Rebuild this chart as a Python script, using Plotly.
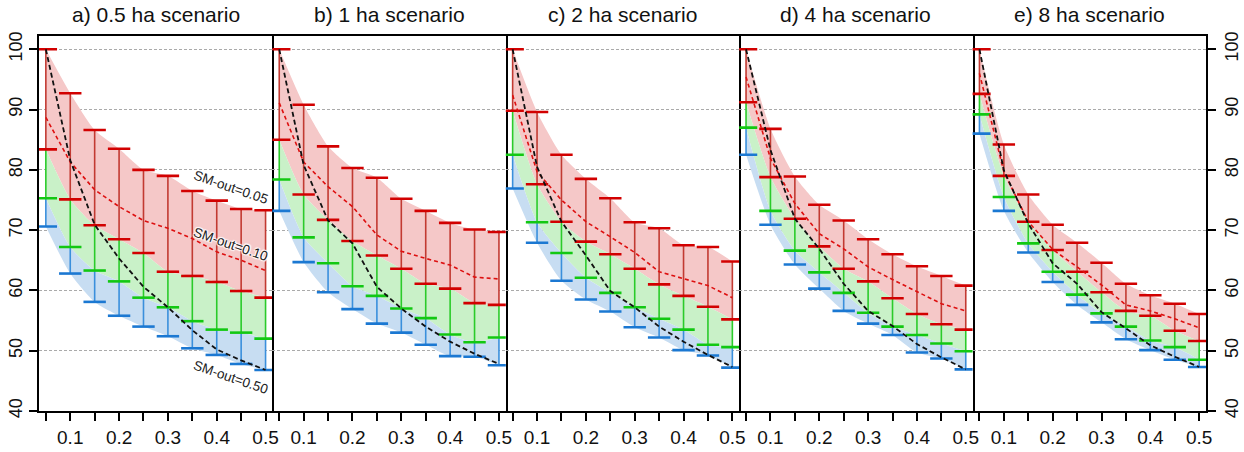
import plotly.graph_objects as go
from plotly.subplots import make_subplots

x_vals = [0.05, 0.10, 0.15, 0.20, 0.25, 0.30, 0.35, 0.40, 0.45, 0.50]
x_tickvals = [0.05, 0.10, 0.15, 0.20, 0.25, 0.30, 0.35, 0.40, 0.45, 0.50]
x_ticktext = ["", "0.1", "", "0.2", "", "0.3", "", "0.4", "", "0.5"]
y_tickvals = [40, 50, 60, 70, 80, 90, 100]
panel_titles = ["a) 0.5 ha scenario", "b) 1 ha scenario", "c) 2 ha scenario",
                "d) 4 ha scenario", "e) 8 ha scenario"]

# panel a
a_red_top = [100, 92.7, 86.6, 83.5, 80.0, 79.0, 76.5, 74.9, 73.5, 73.3]
a_red_low = [83.4, 75.1, 70.8, 68.5, 66.2, 63.1, 62.4, 61.4, 59.9, 58.8]
a_green_low = [75.3, 67.2, 63.3, 61.5, 58.8, 57.2, 54.9, 53.5, 53.0, 52.0]
a_blue_low = [70.6, 62.8, 58.1, 55.8, 54.0, 52.4, 50.4, 49.3, 47.8, 46.8]
a_sm010 = [88.7, 81.3, 76.7, 73.9, 71.6, 70.3, 68.6, 66.4, 65.0, 63.3]
a_sm050 = [100, 81.6, 70.9, 65.3, 60.6, 57.2, 53.4, 50.2, 48.4, 46.8]
# panel b
b_red_top = [100, 90.8, 83.9, 80.3, 78.7, 75.2, 73.2, 71.2, 70.1, 69.7]
b_red_low = [85.0, 75.9, 71.7, 68.2, 65.8, 63.6, 61.1, 60.3, 57.9, 57.6]
b_green_low = [78.4, 68.8, 64.5, 60.7, 59.1, 57.0, 55.4, 52.7, 51.4, 52.2]
b_blue_low = [73.2, 64.7, 59.7, 56.9, 54.5, 53.0, 51.0, 49.1, 49.0, 47.6]
b_sm010 = [91.1, 81.3, 77.2, 73.9, 69.2, 66.5, 65.3, 64.2, 62.2, 61.9]
b_sm050 = [100, 80.8, 71.6, 67.8, 60.6, 57.0, 54.0, 51.5, 49.5, 47.8]
# panel c
c_red_top = [100, 89.6, 82.5, 78.5, 75.3, 71.3, 70.3, 67.5, 67.2, 64.8]
c_red_low = [89.8, 77.6, 71.4, 68.1, 66.0, 63.6, 61.0, 59.1, 57.3, 55.2]
c_green_low = [82.5, 71.3, 66.2, 62.1, 59.6, 57.2, 55.3, 53.5, 51.0, 50.6]
c_blue_low = [76.9, 67.9, 61.6, 58.5, 56.5, 53.9, 52.2, 50.1, 49.2, 47.2]
c_sm010 = [92.4, 79.7, 75.0, 71.4, 68.9, 66.3, 63.1, 62.0, 60.8, 58.8]
c_sm050 = [100, 80.5, 71.4, 65.8, 59.9, 57.2, 54.0, 51.5, 49.3, 47.3]
# panel d
d_red_top = [100, 86.8, 78.9, 74.2, 71.6, 68.5, 66.0, 64.0, 62.4, 60.8]
d_red_low = [91.2, 78.8, 71.9, 67.3, 63.6, 61.5, 58.7, 56.1, 54.4, 53.5]
d_green_low = [87.0, 73.2, 66.6, 63.0, 59.6, 56.3, 54.0, 52.6, 51.2, 49.9]
d_blue_low = [82.5, 70.9, 64.3, 60.3, 56.6, 54.5, 52.6, 49.7, 48.7, 46.9]
d_sm010 = [95.4, 81.9, 74.4, 69.4, 66.9, 63.9, 61.8, 59.8, 57.8, 56.6]
d_sm050 = [100, 83.3, 71.9, 66.9, 61.1, 56.6, 54.1, 51.1, 48.9, 46.9]
# panel e
e_red_top = [100, 84.2, 75.9, 70.9, 67.9, 64.6, 61.1, 59.2, 57.8, 56.1]
e_red_low = [92.6, 79.0, 71.4, 66.7, 63.1, 59.7, 56.6, 55.8, 53.3, 51.6]
e_green_low = [89.2, 75.5, 67.8, 63.1, 59.3, 56.2, 54.0, 51.7, 50.6, 48.5]
e_blue_low = [86.0, 73.2, 66.3, 61.4, 57.6, 54.7, 51.9, 50.1, 48.5, 47.3]
e_sm010 = [96.0, 79.7, 71.4, 66.8, 63.9, 60.9, 57.6, 56.6, 55.3, 53.8]
e_sm050 = [100, 79.9, 71.1, 64.5, 61.1, 56.4, 53.7, 50.9, 49.0, 47.3]

panels = [
    (a_red_top, a_red_low, a_green_low, a_blue_low, a_sm010, a_sm050),
    (b_red_top, b_red_low, b_green_low, b_blue_low, b_sm010, b_sm050),
    (c_red_top, c_red_low, c_green_low, c_blue_low, c_sm010, c_sm050),
    (d_red_top, d_red_low, d_green_low, d_blue_low, d_sm010, d_sm050),
    (e_red_top, e_red_low, e_green_low, e_blue_low, e_sm010, e_sm050),
]

FILL_RED = "#F5C8C8"
FILL_GREEN = "#C9F1C8"
FILL_BLUE = "#C7DDF2"
CAP_RED = "#D20000"
CAP_GREEN = "#12C812"
CAP_BLUE = "#1B78D2"
BAR_RED = "#C23A32"
BAR_GREEN = "#2ACB2A"
BAR_BLUE = "#3A8FDC"
FONT = "Liberation Sans, Arial, sans-serif"

fig = make_subplots(rows=1, cols=5, horizontal_spacing=0)


def segs(xs, y1, y2):
    sx, sy = [], []
    for xi, a, b in zip(xs, y1, y2):
        sx += [xi, xi, None]
        sy += [a, b, None]
    return sx, sy


for i, (rt, rl, gl, bl, s10, s50) in enumerate(panels):
    col = i + 1
    sp = dict(width=0, shape="spline", smoothing=0.6)
    fig.add_trace(go.Scatter(x=x_vals, y=rt, mode="lines", line=sp, hoverinfo="skip"), row=1, col=col)
    fig.add_trace(go.Scatter(x=x_vals, y=rl, mode="lines", line=sp, fill="tonexty",
                             fillcolor=FILL_RED, hoverinfo="skip"), row=1, col=col)
    fig.add_trace(go.Scatter(x=x_vals, y=gl, mode="lines", line=sp, fill="tonexty",
                             fillcolor=FILL_GREEN, hoverinfo="skip"), row=1, col=col)
    fig.add_trace(go.Scatter(x=x_vals, y=bl, mode="lines", line=sp, fill="tonexty",
                             fillcolor=FILL_BLUE, hoverinfo="skip"), row=1, col=col)
    for top, low, c in [(rt, rl, BAR_RED), (rl, gl, BAR_GREEN), (gl, bl, BAR_BLUE)]:
        sx, sy = segs(x_vals, top, low)
        fig.add_trace(go.Scatter(x=sx, y=sy, mode="lines", line=dict(color=c, width=1.6),
                                 hoverinfo="skip"), row=1, col=col)
    for yy, c in [(bl, CAP_BLUE), (gl, CAP_GREEN), (rl, CAP_RED), (rt, CAP_RED)]:
        fig.add_trace(go.Scatter(x=x_vals, y=yy, mode="markers",
                                 marker=dict(symbol="line-ew", size=16, line=dict(color=c, width=2.6)),
                                 hoverinfo="skip"), row=1, col=col)
    fig.add_trace(go.Scatter(x=x_vals, y=s10, mode="lines",
                             line=dict(color="#DD1010", width=1.6, dash="4px,3px"),
                             hoverinfo="skip"), row=1, col=col)
    fig.add_trace(go.Scatter(x=x_vals, y=s50, mode="lines",
                             line=dict(color="#111111", width=1.8, dash="5px,3px"),
                             hoverinfo="skip"), row=1, col=col)

for i in range(5):
    n = "" if i == 0 else str(i + 1)
    fig.layout["xaxis" + n].update(
        range=[0.036, 0.514], tickvals=x_tickvals, ticktext=x_ticktext,
        ticks="outside", ticklen=8, tickwidth=2, tickcolor="black",
        showline=True, mirror=True, linecolor="black", linewidth=2,
        showgrid=False, zeroline=False, automargin=False,
        tickfont=dict(family=FONT, size=19, color="#111"),
    )
    yupd = dict(
        range=[40, 102.2], tickvals=y_tickvals,
        showline=True, linecolor="black", linewidth=2,
        showgrid=True, gridcolor="#AAAAAA", gridwidth=1, griddash="3px,2px",
        zeroline=False, automargin=False,
    )
    if i == 0:
        yupd.update(side="left", mirror=True, ticks="outside", ticklen=8, tickwidth=2,
                    tickcolor="black", tickangle=-90, showticklabels=True,
                    tickfont=dict(family=FONT, size=18, color="#111"))
    elif i == 4:
        yupd.update(side="right", mirror=False, ticks="outside", ticklen=8, tickwidth=2,
                    tickcolor="black", tickangle=-90, showticklabels=True,
                    tickfont=dict(family=FONT, size=18, color="#111"))
    else:
        yupd.update(side="right", mirror=False, ticks="", showticklabels=False)
    fig.layout["yaxis" + n].update(**yupd)

annotations = []
for i, t in enumerate(panel_titles):
    annotations.append(dict(text=t, x=(i + 0.5) / 5, y=1.056, xref="paper", yref="paper",
                            xanchor="center", yanchor="middle", showarrow=False,
                            font=dict(family=FONT, size=21, color="#111")))

halo = "white 1px 1px 1px, white -1px -1px 1px, white 1px -1px 1px, white -1px 1px 1px"
for label, yv in [("SM-out=0.05", 77.1), ("SM-out=0.10", 67.7), ("SM-out=0.50", 45.6)]:
    annotations.append(dict(text=label, x=0.430, y=yv, xref="x", yref="y", showarrow=False,
                            textangle=19,
                            font=dict(family=FONT, size=13.5, color="#222", shadow=halo)))

fig.update_layout(
    width=1244, height=452,
    margin=dict(l=39, r=38, t=36, b=41, autoexpand=False),
    paper_bgcolor="white", plot_bgcolor="white",
    showlegend=False,
    annotations=annotations,
)

fig.write_html("out.html", config={"displayModeBar": False},
               post_script="document.body.style.margin='0px';document.body.style.overflow='hidden';")
